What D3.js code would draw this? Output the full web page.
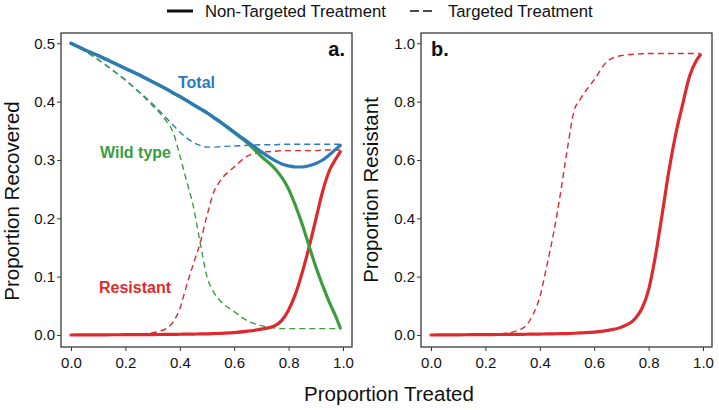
<!DOCTYPE html>
<html>
<head>
<meta charset="utf-8">
<script src="https://cdn.jsdelivr.net/npm/d3@7"></script>
<style>
  html, body { margin: 0; padding: 0; background: #fff; }
  svg { display: block; font-family: "Liberation Sans", Arial, Helvetica, sans-serif; }
</style>
</head>
<body>
<svg id="chart" width="719" height="410"></svg>
<script>
// ---------- DATA ----------
const proportionTreated = [0, 0.05, 0.1, 0.15, 0.2, 0.25, 0.3, 0.35, 0.375, 0.4, 0.425, 0.45, 0.475, 0.5, 0.525, 0.55, 0.6, 0.65, 0.7, 0.75, 0.775, 0.8, 0.825, 0.85, 0.875, 0.9, 0.925, 0.95, 0.975, 0.99];

// Panel a: proportion recovered, non-targeted (solid)
const totalNonTargeted = [0.5, 0.489, 0.479, 0.468, 0.457, 0.446, 0.434, 0.422, 0.415, 0.409, 0.402, 0.395, 0.388, 0.381, 0.373, 0.365, 0.348, 0.331, 0.314, 0.299, 0.293, 0.29, 0.288, 0.288, 0.29, 0.294, 0.3, 0.309, 0.319, 0.325];
const wildNonTargeted = [0.5, 0.4888, 0.4788, 0.4678, 0.4568, 0.4458, 0.4338, 0.4218, 0.4148, 0.4087, 0.4017, 0.3946, 0.3876, 0.3805, 0.3724, 0.3642, 0.3465, 0.3285, 0.306, 0.285, 0.27, 0.25, 0.222, 0.19, 0.153, 0.117, 0.085, 0.056, 0.03, 0.012];
const resistantNonTargeted = [0, 0.0002, 0.0003, 0.0004, 0.0005, 0.0006, 0.0008, 0.001, 0.0011, 0.0013, 0.0014, 0.0016, 0.0018, 0.002, 0.0024, 0.0029, 0.004, 0.0065, 0.01, 0.016, 0.025, 0.043, 0.07, 0.107, 0.15, 0.198, 0.246, 0.282, 0.303, 0.314];

// Panel a: proportion recovered, targeted (dashed)
const totalTargeted = [0.5, 0.487, 0.472, 0.455, 0.437, 0.417, 0.396, 0.372, 0.36, 0.348, 0.338, 0.33, 0.325, 0.322, 0.322, 0.323, 0.324, 0.325, 0.326, 0.326, 0.327, 0.327, 0.327, 0.327, 0.327, 0.327, 0.327, 0.327, 0.327, 0.327];
const wildTargeted = [0.5, 0.487, 0.472, 0.455, 0.437, 0.416, 0.393, 0.367, 0.348, 0.308, 0.264, 0.22, 0.158, 0.1, 0.073, 0.058, 0.04, 0.024, 0.016, 0.012, 0.011, 0.011, 0.011, 0.011, 0.011, 0.011, 0.011, 0.011, 0.011, 0.011];
const resistantTargeted = [0, 0, 0, 0.0002, 0.0005, 0.0015, 0.004, 0.011, 0.022, 0.045, 0.085, 0.122, 0.158, 0.205, 0.245, 0.265, 0.288, 0.307, 0.313, 0.315, 0.316, 0.316, 0.316, 0.316, 0.316, 0.316, 0.317, 0.317, 0.317, 0.317];

// Panel b: proportion resistant
const fracResistantNonTargeted = [0, 0.0003, 0.0006, 0.001, 0.0013, 0.0017, 0.002, 0.0025, 0.003, 0.0033, 0.0037, 0.004, 0.0047, 0.005, 0.006, 0.0075, 0.01, 0.016, 0.027, 0.056, 0.09, 0.155, 0.27, 0.415, 0.565, 0.69, 0.79, 0.885, 0.94, 0.96];
const fracResistantTargeted = [0, 0, 0.0003, 0.0006, 0.001, 0.003, 0.01, 0.033, 0.07, 0.13, 0.234, 0.346, 0.48, 0.63, 0.765, 0.81, 0.875, 0.94, 0.958, 0.963, 0.964, 0.965, 0.965, 0.965, 0.965, 0.965, 0.965, 0.965, 0.965, 0.965];

const xTicks = [0, 0.2, 0.4, 0.6, 0.8, 1.0];
const yTicksA = [0, 0.1, 0.2, 0.3, 0.4, 0.5];
const yTicksB = [0, 0.2, 0.4, 0.6, 0.8, 1.0];

const legendLabels = ["Non-Targeted Treatment", "Targeted Treatment"];
const seriesLabels = ["Total", "Wild type", "Resistant"];
const panelLabels = ["a.", "b."];
const axisTitles = { x: "Proportion Treated", yA: "Proportion Recovered", yB: "Proportion Resistant" };

// ---------- STYLE ----------
const BLUE = "#2b7bb9", GREEN = "#3b9d3e", RED = "#dd2a2f";
const FRAME = "#3a3a3a";
const SOLID_W = 3.2, DASH_W = 1.4, DASH = "6,4";

const svg = d3.select("#chart");
const panelW = 291, panelH = 314;

function makePanel(left, top, yDomain, yTicks) {
  const g = svg.append("g").attr("transform", `translate(${left},${top})`);
  const x = d3.scaleLinear().domain([0, 1]).range([10, 282]);
  const y = d3.scaleLinear().domain(yDomain).range([302, 10.3]);

  const xAxis = g.append("g").attr("transform", `translate(0,${panelH})`)
    .call(d3.axisBottom(x).tickValues(xTicks).tickFormat(d3.format(".1f")).tickSize(4).tickPadding(6));
  const yAxis = g.append("g")
    .call(d3.axisLeft(y).tickValues(yTicks).tickFormat(d3.format(".1f")).tickSize(4).tickPadding(2));
  [xAxis, yAxis].forEach(a => {
    a.select(".domain").remove();
    a.selectAll(".tick line").attr("stroke", FRAME).attr("stroke-width", 1);
    a.selectAll(".tick text").attr("fill", "#111").style("font-size", "15px")
      .style("font-family", "'Liberation Sans', Arial, sans-serif");
  });

  g.append("rect").attr("x", 0).attr("y", 0).attr("width", panelW).attr("height", panelH)
    .attr("fill", "none").attr("stroke", FRAME).attr("stroke-width", 1.3);

  const inner = g.append("g");
  return { g: inner, x, y };
}

function drawLine(p, xs, ys, color, dashed) {
  const line = d3.line().x(d => p.x(d[0])).y(d => p.y(d[1])).curve(d3.curveMonotoneX);
  p.g.append("path")
    .datum(xs.map((v, i) => [v, ys[i]]))
    .attr("d", line)
    .attr("fill", "none")
    .attr("stroke", color)
    .attr("stroke-width", dashed ? DASH_W : SOLID_W)
    .attr("stroke-dasharray", dashed ? DASH : null)
    .attr("stroke-linecap", dashed ? "butt" : "round")
    .attr("stroke-linejoin", "round");
}

// Panel a
const pa = makePanel(61, 33, [0, 0.5], yTicksA);
drawLine(pa, proportionTreated, totalTargeted, BLUE, true);
drawLine(pa, proportionTreated, wildTargeted, GREEN, true);
drawLine(pa, proportionTreated, resistantTargeted, RED, true);
drawLine(pa, proportionTreated, resistantNonTargeted, RED, false);
drawLine(pa, proportionTreated, wildNonTargeted, GREEN, false);
drawLine(pa, proportionTreated, totalNonTargeted, BLUE, false);

// Panel b
const pb = makePanel(421, 33, [0, 1], yTicksB);
drawLine(pb, proportionTreated, fracResistantTargeted, RED, true);
drawLine(pb, proportionTreated, fracResistantNonTargeted, RED, false);

// Series labels in panel a
const labelStyle = sel => sel.style("font-size", "16px").style("font-weight", "bold");
svg.append("text").text(seriesLabels[0]).attr("x", 178).attr("y", 88).attr("fill", BLUE).call(labelStyle);
svg.append("text").text(seriesLabels[1]).attr("x", 100).attr("y", 158).attr("fill", GREEN).call(labelStyle);
svg.append("text").text(seriesLabels[2]).attr("x", 99).attr("y", 293).attr("fill", RED).call(labelStyle);

// Panel labels
svg.append("text").text(panelLabels[0]).attr("x", 345).attr("y", 56).attr("text-anchor", "end")
  .style("font-size", "20px").style("font-weight", "bold").attr("fill", "#111");
svg.append("text").text(panelLabels[1]).attr("x", 431).attr("y", 56)
  .style("font-size", "20px").style("font-weight", "bold").attr("fill", "#111");

// Axis titles
svg.append("text").text(axisTitles.x).attr("x", 389).attr("y", 401).attr("text-anchor", "middle")
  .style("font-size", "20.5px").attr("fill", "#111");
svg.append("text").text(axisTitles.yA).attr("transform", "translate(19,201) rotate(-90)").attr("text-anchor", "middle")
  .style("font-size", "20.5px").attr("fill", "#111");
svg.append("text").text(axisTitles.yB).attr("transform", "translate(378,190) rotate(-90)").attr("text-anchor", "middle")
  .style("font-size", "20.5px").attr("fill", "#111");

// Legend
const leg = svg.append("g");
leg.append("line").attr("x1", 167).attr("x2", 193).attr("y1", 11).attr("y2", 11)
  .attr("stroke", "#111").attr("stroke-width", 3);
leg.append("text").text(legendLabels[0]).attr("x", 205).attr("y", 17)
  .style("font-size", "16.7px").attr("fill", "#111");
leg.append("line").attr("x1", 410).attr("x2", 432).attr("y1", 11).attr("y2", 11)
  .attr("stroke", "#111").attr("stroke-width", 1.6).attr("stroke-dasharray", "9,4");
leg.append("text").text(legendLabels[1]).attr("x", 448).attr("y", 17)
  .style("font-size", "16.7px").attr("fill", "#111");
</script>
</body>
</html>
